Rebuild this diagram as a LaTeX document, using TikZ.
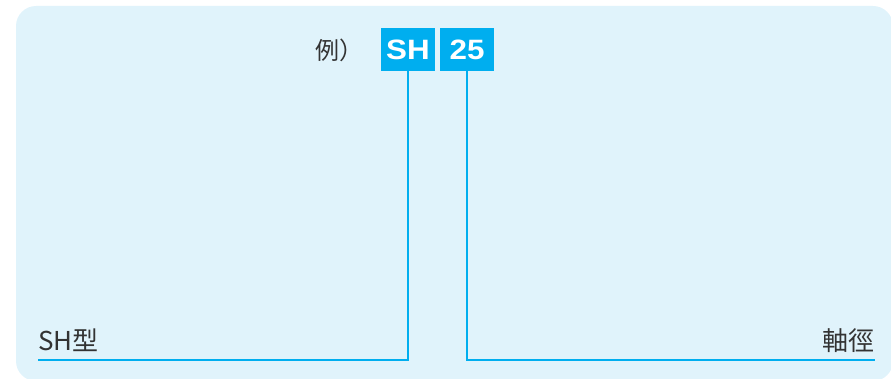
\documentclass[tikz,border=0pt]{standalone}
\usepackage{fontspec}
\setmainfont{Liberation Sans}
\newfontfamily\jpfont{Noto Sans CJK JP}
\newfontfamily\codefont{Liberation Sans}[FakeStretch=1.12]

\definecolor{panelblue}{RGB}{224,243,251}
\definecolor{codecyan}{RGB}{0,174,239}
\definecolor{textgray}{RGB}{51,51,51}

\tikzset{
  codebox/.style={fill=codecyan, text=white, font=\codefont\bfseries\fontsize{21pt}{23pt}\selectfont,
    minimum width=40.5pt, minimum height=32.25pt, inner sep=0pt},
  leadline/.style={draw=codecyan, line width=1.5pt},
  lbl/.style={text=textgray, inner sep=0pt, font=\jpfont\fontsize{19.5pt}{22pt}\selectfont}
}

\begin{document}
\begin{tikzpicture}[x=0.75pt,y=0.75pt,yscale=-1,xscale=1]
\useasboundingbox (0,0) rectangle (891,378);

%Shape: Rounded Rect
\fill [panelblue, rounded corners=15pt] (16,6) rectangle (893,381) ;

% Text Node
\draw (315,60) node [anchor=base west][inner sep=0pt] [text=textgray, font=\jpfont\fontsize{18pt}{20pt}\selectfont] (ex) {例）};
%Shape: Rectangle
\draw (408,49.5) node [codebox] (sh) {SH};
%Shape: Rectangle
\draw (467,49.5) node [codebox] (size) {25};

% Text Node
\draw (38,350) node [lbl, anchor=base west] (type) {SH型};
% Text Node
\draw (875,350) node [lbl, anchor=base east] (dia) {軸徑};

\coordinate (typeend) at (38,360);
\coordinate (diaend) at (875,360);

%Straight Lines
\draw [leadline] (sh.south) |- (typeend) ;
%Straight Lines
\draw [leadline] (size.south) |- (diaend) ;

\end{tikzpicture}
\end{document}
